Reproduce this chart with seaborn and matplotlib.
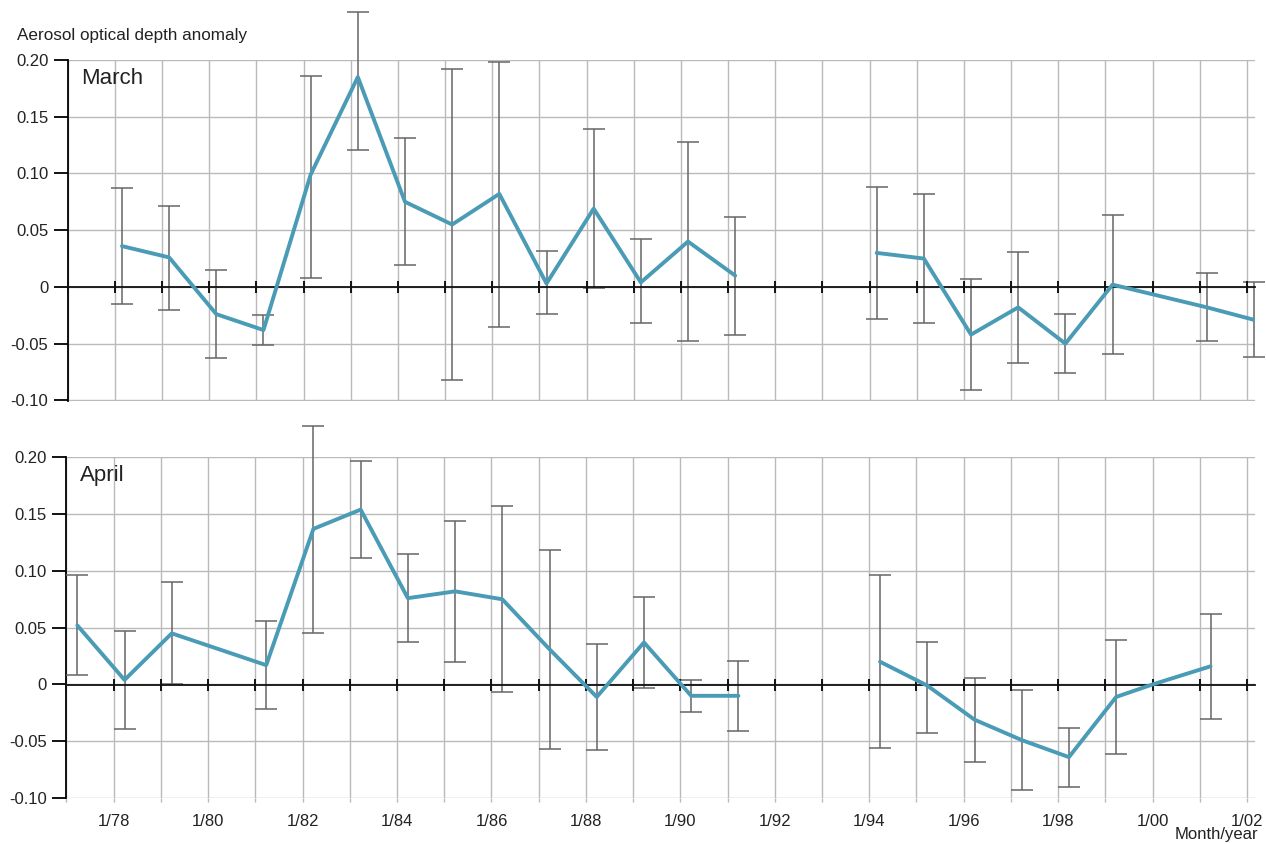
import numpy as np
import pandas as pd
import seaborn as sns
import matplotlib.pyplot as plt

#%%
# March anomalies, time as decimal year
mar_time = [1978.15, 1979.15, 1980.15, 1981.15, 1982.15, 1983.15, 1984.15, 1985.15,
            1986.15, 1987.15, 1988.15, 1989.15, 1990.15, 1991.15,
            1994.15, 1995.15, 1996.15, 1997.15, 1998.15, 1999.15, 2001.15, 2002.15]
mar_value = [0.036, 0.026, -0.024, -0.038, 0.099, 0.185, 0.075, 0.055, 0.082, 0.003,
             0.069, 0.004, 0.040, 0.010, 0.030, 0.025, -0.042, -0.018, -0.050, 0.002,
             -0.018, -0.029]
mar_low = [-0.015, -0.020, -0.063, -0.051, 0.008, 0.121, 0.019, -0.082, -0.035, -0.024,
           -0.001, -0.032, -0.048, -0.042, -0.028, -0.032, -0.091, -0.067, -0.076, -0.059,
           -0.048, -0.062]
mar_high = [0.087, 0.071, 0.015, -0.025, 0.186, 0.242, 0.131, 0.192, 0.198, 0.032,
            0.139, 0.042, 0.128, 0.062, 0.088, 0.082, 0.007, 0.031, -0.024, 0.063,
            0.012, 0.004]
mar_segment = [0] * 14 + [1] * 8

# April anomalies
apr_time = [1977.23, 1978.23, 1979.23, 1981.23, 1982.23, 1983.23, 1984.23, 1985.23,
            1986.23, 1987.23, 1988.23, 1989.23, 1990.23, 1991.23,
            1994.23, 1995.23, 1996.23, 1997.23, 1998.23, 1999.23, 2000.0, 2001.23]
apr_value = [0.052, 0.004, 0.045, 0.017, 0.137, 0.154, 0.076, 0.082, 0.075, 0.031,
             -0.011, 0.037, -0.010, -0.010, 0.020, -0.001, -0.031, -0.049, -0.064, -0.011,
             0.000, 0.016]
apr_low = [0.008, -0.039, 0.000, -0.022, 0.045, 0.111, 0.037, 0.020, -0.007, -0.057,
           -0.058, -0.003, -0.024, -0.041, -0.056, -0.043, -0.068, -0.093, -0.090, -0.061,
           np.nan, -0.030]
apr_high = [0.096, 0.047, 0.090, 0.056, 0.228, 0.197, 0.115, 0.144, 0.157, 0.118,
            0.036, 0.077, 0.004, 0.021, 0.096, 0.037, 0.006, -0.005, -0.038, 0.039,
            np.nan, 0.062]
apr_segment = [0] * 14 + [1] * 8

grid_years = list(range(1977, 2003))
label_years = list(range(1978, 2003, 2))
y_ticks = [-0.10, -0.05, 0, 0.05, 0.10, 0.15, 0.20]
y_labels = ["-0.10", "-0.05", "0", "0.05", "0.10", "0.15", "0.20"]

#%%
sns.set_theme(style="whitegrid")
plt.rcParams['font.family'] = ['Liberation Sans', 'DejaVu Sans']

line_col = "#4a9bb6"
err_col = "#666666"
grid_col = "#bababa"

fig = plt.figure(figsize=(12.66, 8.44), dpi=100)
ax1 = fig.add_axes([0.0535, 0.5252, 0.9378, 0.4037])
ax2 = fig.add_axes([0.0525, 0.0541, 0.9388, 0.4040])

panels = [(ax1, "March", mar_time, mar_value, mar_low, mar_high, mar_segment),
          (ax2, "April", apr_time, apr_value, apr_low, apr_high, apr_segment)]

for ax, name, t, v, lo, hi, seg in panels:
    df = pd.DataFrame({"time": t, "value": v, "low": lo, "high": hi, "seg": seg})

    # error bars (no bar for the point without a range)
    eb = df.dropna()
    ax.errorbar(eb["time"], eb["value"],
                yerr=[eb["value"] - eb["low"], eb["high"] - eb["value"]],
                fmt="none", ecolor=err_col, elinewidth=1.1, capsize=8, capthick=1.1,
                zorder=3, clip_on=False)

    sns.lineplot(data=df, x="time", y="value", units="seg", estimator=None,
                 color=line_col, linewidth=2.8, ax=ax, zorder=4, legend=False)

    ax.set_xlim(1977.12, 2002.17)
    ax.set_ylim(-0.1003, 0.20)
    ax.set_xticks(grid_years)
    ax.set_yticks(y_ticks)
    ax.set_yticklabels(y_labels)
    ax.grid(True, color=grid_col, linewidth=1.0)
    ax.set_xlabel("")
    ax.set_ylabel("")

    for s in ["top", "right", "bottom"]:
        ax.spines[s].set_visible(False)
    ax.spines["left"].set_color("black")
    ax.spines["left"].set_linewidth(1.3)

    ax.tick_params(axis="y", left=True, length=10, width=1.3, color="black",
                   labelsize=12, labelcolor="#222222", pad=4)
    ax.tick_params(axis="x", bottom=True, length=3, width=1, color=grid_col,
                   labelsize=12, labelcolor="#222222", pad=8)

    # zero line with year ticks
    sec = ax.secondary_xaxis(1 / 3)
    sec.set_zorder(3.5)
    sec.set_xticks(grid_years)
    sec.tick_params(axis="x", bottom=True, direction="inout", length=9, width=1.4,
                    color="#111111", labelbottom=False)
    sec.spines["bottom"].set_color("#111111")
    sec.spines["bottom"].set_linewidth(1.3)

    ax.text(0.011, 0.947, name, transform=ax.transAxes, fontsize=16,
            va="center", ha="left", color="#222222")

ax1.tick_params(axis="x", bottom=False)
ax1.set_xticklabels([])
ax2.set_xticklabels(["1/%02d" % (y % 100) if y in label_years else "" for y in grid_years])

fig.text(0.0134, 0.9585, "Aerosol optical depth anomaly", fontsize=12.3,
         va="center", ha="left", color="#222222")
fig.text(0.9937, 0.0107, "Month/year", fontsize=12, va="center", ha="right",
         color="#222222")

fig.savefig("out.png", dpi=100)
